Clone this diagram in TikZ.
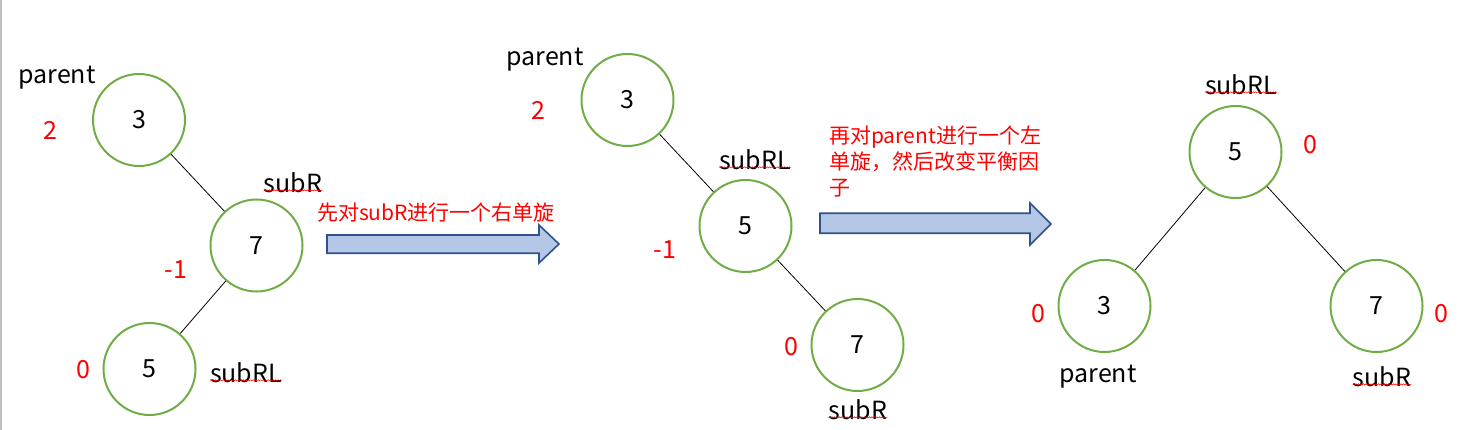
\documentclass[tikz,border=0pt]{standalone}
\usepackage{fontspec}
\newfontfamily\cjk{Noto Sans CJK SC}
\usetikzlibrary{decorations.pathmorphing}
\definecolor{cgreen}{HTML}{70AD47}
\definecolor{afill}{HTML}{B4C7E7}
\definecolor{aline}{HTML}{2F528F}
\definecolor{cred}{HTML}{FF0000}
\tikzset{
  circ/.style={circle,draw=cgreen,line width=2pt,minimum size=92pt,inner sep=0pt,font=\cjk\fontsize{25}{28}\selectfont},
  lbl/.style={inner sep=0pt,font=\cjk\fontsize{25}{28}\selectfont},
  bf/.style={inner sep=0pt,text=cred,font=\cjk\fontsize{25}{28}\selectfont},
  note/.style={inner sep=0pt,text=cred,font=\cjk\fontsize{21}{26}\selectfont,align=left},
  edge/.style={draw=black,line width=0.8pt},
  blockarrow/.style={fill=afill,draw=aline,line width=1.6pt,line join=miter},
  squiggle/.style={draw=cred,line width=0.5pt,decorate,decoration={snake,amplitude=0.6pt,segment length=2.5pt}}
}
\begin{document}
\begin{tikzpicture}[x=1pt,y=-1pt]
\useasboundingbox (0,0) rectangle (1476,430);
\draw[gray!50,line width=1.5pt] (0.75,0) -- (0.75,430);
% Tree 1
\node[circ] (t1a) at (139,120) {3};
\node[circ] (t1b) at (256.5,245.5) {7};
\node[circ] (t1c) at (149.5,369) {5};
\draw[edge] (t1a) -- (t1b);
\draw[edge] (t1b) -- (t1c);
\node[lbl] (t1p) at (57,78) {parent};
\node[bf] (t1n2) at (50,130) {2};
\node[lbl] (t1r) at (293,183) {subR};
\node[bf] (t1nm) at (176,270) {-1};
\node[bf] (t1n0) at (83,370) {0};
\node[lbl] (t1rl) at (246,373) {subRL};
\draw[squiggle] ([yshift=3pt]t1r.south west) -- ([yshift=3pt]t1r.south east);
\draw[squiggle] ([yshift=3pt]t1rl.south west) -- ([yshift=3pt]t1rl.south east);
% Arrow 1
\node[note] (n1) at (436,213) {先对subR进行一个右单旋};
\draw[blockarrow] (327,235) -- (539,235) -- (539,225) -- (559,244) -- (539,263) -- (539,253.3) -- (327,253.3) -- cycle;
% Tree 2
\node[circ] (t2a) at (627.5,100) {3};
\node[circ] (t2b) at (745.5,226) {5};
\node[circ] (t2c) at (857.5,345) {7};
\draw[edge] (t2a) -- (t2b);
\draw[edge] (t2b) -- (t2c);
\node[lbl] (t2p) at (545,60) {parent};
\node[bf] (t2n2) at (538,110) {2};
\node[lbl] (t2rl) at (755,160) {subRL};
\node[bf] (t2nm) at (665,250) {-1};
\node[bf] (t2n0) at (791,347) {0};
\node[lbl] (t2r) at (858,410) {subR};
\draw[squiggle] ([yshift=3pt]t2rl.south west) -- ([yshift=3pt]t2rl.south east);
\draw[squiggle] ([yshift=3pt]t2r.south west) -- ([yshift=3pt]t2r.south east);
% Arrow 2
\node[note,anchor=west] (n2) at (829,162) {再对parent进行一个左\\单旋，然后改变平衡因\\子};
\draw[blockarrow] (820,213.3) -- (1030,213.3) -- (1030,203) -- (1051,224) -- (1030,245) -- (1030,233.3) -- (820,233.3) -- cycle;
% Tree 3
\node[circ] (t3a) at (1235.5,152) {5};
\node[circ] (t3b) at (1104.5,306) {3};
\node[circ] (t3c) at (1376.5,306) {7};
\draw[edge] (t3a) -- (t3b);
\draw[edge] (t3a) -- (t3c);
\node[lbl] (t3rl) at (1241,85) {subRL};
\node[bf] (t3n0a) at (1310,145) {0};
\node[bf] (t3n0b) at (1038,314) {0};
\node[bf] (t3n0c) at (1441,314) {0};
\node[lbl] (t3p) at (1098,377) {parent};
\node[lbl] (t3r) at (1382,377) {subR};
\draw[squiggle] ([yshift=3pt]t3rl.south west) -- ([yshift=3pt]t3rl.south east);
\draw[squiggle] ([yshift=3pt]t3r.south west) -- ([yshift=3pt]t3r.south east);
\end{tikzpicture}
\end{document}
